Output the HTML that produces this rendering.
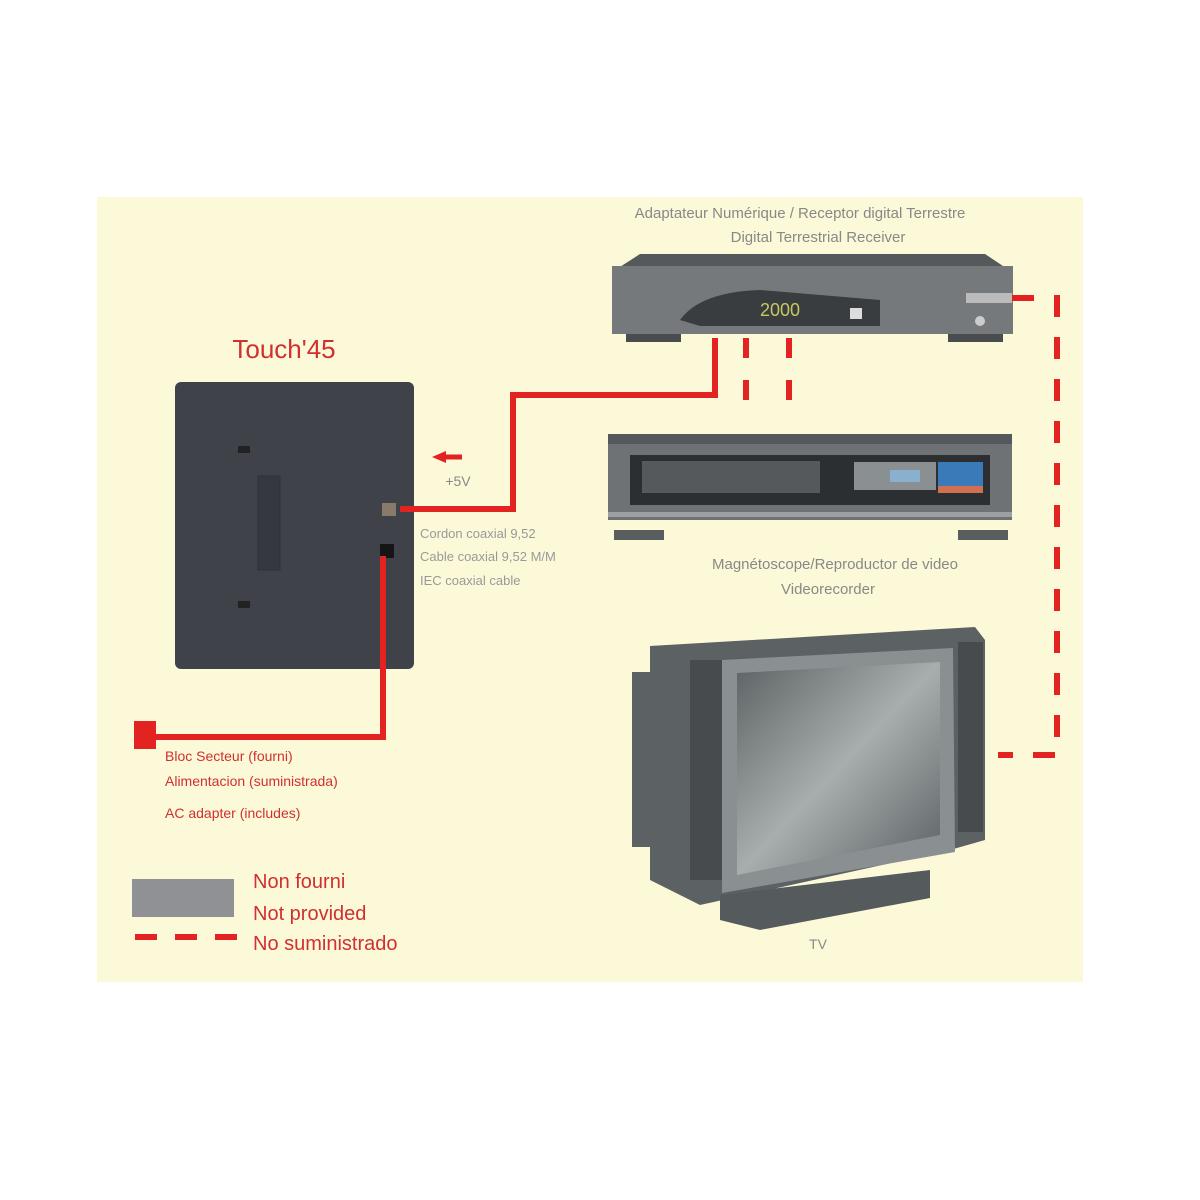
<!DOCTYPE html>
<html><head><meta charset="utf-8"><style>
html,body{margin:0;padding:0;background:#fff;}
svg{display:block;}
text{font-family:"Liberation Sans",sans-serif;}
</style></head><body>
<svg width="1200" height="1200" viewBox="0 0 1200 1200" xmlns="http://www.w3.org/2000/svg">
<defs>
<linearGradient id="scr" x1="0" y1="0" x2="1" y2="1">
<stop offset="0" stop-color="#5d6264"/><stop offset="0.5" stop-color="#a8adad"/><stop offset="1" stop-color="#5a5f62"/>
</linearGradient>
</defs>
<rect x="97" y="197" width="986" height="785" fill="#fcf9d9"/>

<!-- Receiver -->
<text x="800" y="218" font-size="15" fill="#888" text-anchor="middle">Adaptateur Numérique / Receptor digital Terrestre</text>
<text x="818" y="242" font-size="15" fill="#888" text-anchor="middle">Digital Terrestrial Receiver</text>
<polygon points="612,272 640,254 985,254 1012,272" fill="#55595c"/>
<rect x="612" y="266" width="401" height="68" fill="#75797c"/>
<rect x="626" y="334" width="55" height="8" fill="#4a4d50"/>
<rect x="948" y="334" width="55" height="8" fill="#4a4d50"/>
<path d="M680,320 Q700,292 760,290 L880,300 L880,326 L700,326 Z" fill="#3a3d40"/>
<text x="760" y="316" font-size="18" fill="#c8c860" font-family="Liberation Mono">2000</text>
<rect x="850" y="308" width="12" height="11" fill="#ddd"/>
<rect x="966" y="293" width="46" height="10" fill="#bbb"/>
<circle cx="980" cy="321" r="5" fill="#ccc"/>

<!-- VCR -->
<rect x="608" y="434" width="404" height="12" fill="#55595c"/>
<rect x="608" y="444" width="404" height="76" fill="#6e7275"/>
<rect x="630" y="455" width="360" height="50" fill="#2c2f31"/>
<rect x="642" y="461" width="178" height="32" fill="#55595c"/>
<rect x="854" y="462" width="82" height="28" fill="#8a8f92"/>
<rect x="890" y="470" width="30" height="12" fill="#8ab0d0"/>
<rect x="938" y="462" width="45" height="24" fill="#3a7ab8"/>
<rect x="938" y="486" width="45" height="7" fill="#d07050"/>
<rect x="608" y="512" width="404" height="5" fill="#9da0a2"/>
<rect x="614" y="530" width="50" height="10" fill="#5a5d60"/>
<rect x="958" y="530" width="50" height="10" fill="#5a5d60"/>
<text x="835" y="569" font-size="15" fill="#888" text-anchor="middle">Magnétoscope/Reproductor de video</text>
<text x="828" y="594" font-size="15" fill="#888" text-anchor="middle">Videorecorder</text>

<!-- TV -->
<polygon points="650,646 975,627 985,640 985,840 950,850 700,905 650,880" fill="#5c6164"/>
<rect x="632" y="672" width="30" height="175" fill="#5c6164"/>
<rect x="690" y="660" width="35" height="220" fill="#474b4e"/>
<rect x="958" y="642" width="25" height="190" fill="#474b4e"/>
<polygon points="722,660 953,648 955,852 722,893" fill="#8a8f92"/>
<polygon points="737,673 940,662 940,835 737,875" fill="url(#scr)"/>
<polygon points="720,895 930,870 930,898 760,930 720,920" fill="#555a5d"/>
<text x="818" y="949" font-size="14" fill="#888" text-anchor="middle">TV</text>

<!-- Touch'45 -->
<text x="284" y="358" font-size="26" fill="#d03030" text-anchor="middle">Touch'45</text>
<rect x="175" y="382" width="239" height="287" rx="6" fill="#3f4249"/>
<rect x="258" y="476" width="22" height="94" fill="#35383e" stroke="#2d3035"/>
<rect x="238" y="446" width="12" height="7" fill="#222"/>
<rect x="238" y="601" width="12" height="7" fill="#222"/>
<rect x="382" y="503" width="14" height="13" fill="#8a7a6a"/>
<rect x="380" y="544" width="14" height="14" fill="#151515"/>

<!-- red lines -->
<g fill="none" stroke="#e32222" stroke-width="6">
<polyline points="400,509 513,509 513,395 715,395 715,338"/>
<polyline points="383,556 383,737 140,737"/>
<line x1="746" y1="338" x2="746" y2="410" stroke-dasharray="20,22"/>
<line x1="789" y1="338" x2="789" y2="410" stroke-dasharray="20,22"/>
<polyline points="1012,298 1057,298 1057,755 998,755" stroke-dasharray="22,20"/>
<line x1="135" y1="937" x2="237" y2="937" stroke-dasharray="22,18"/>
</g>
<rect x="134" y="721" width="22" height="28" fill="#e32222"/>
<line x1="462" y1="457" x2="442" y2="457" stroke="#e32222" stroke-width="5"/>
<polygon points="432,457 446,451 446,463" fill="#e32222"/>
<text x="458" y="486" font-size="14" fill="#888" text-anchor="middle">+5V</text>

<text x="420" y="538" font-size="13" fill="#999">Cordon coaxial 9,52</text>
<text x="420" y="561" font-size="13" fill="#999">Cable coaxial 9,52 M/M</text>
<text x="420" y="585" font-size="13" fill="#999">IEC coaxial cable</text>

<text x="165" y="761" font-size="14" fill="#d03030">Bloc Secteur (fourni)</text>
<text x="165" y="786" font-size="14" fill="#d03030">Alimentacion (suministrada)</text>
<text x="165" y="818" font-size="14" fill="#d03030">AC adapter (includes)</text>

<rect x="132" y="879" width="102" height="38" fill="#8f9194"/>
<text x="253" y="888" font-size="20" fill="#d03030">Non fourni</text>
<text x="253" y="920" font-size="20" fill="#d03030">Not provided</text>
<text x="253" y="950" font-size="20" fill="#d03030">No suministrado</text>
</svg>
</body></html>
